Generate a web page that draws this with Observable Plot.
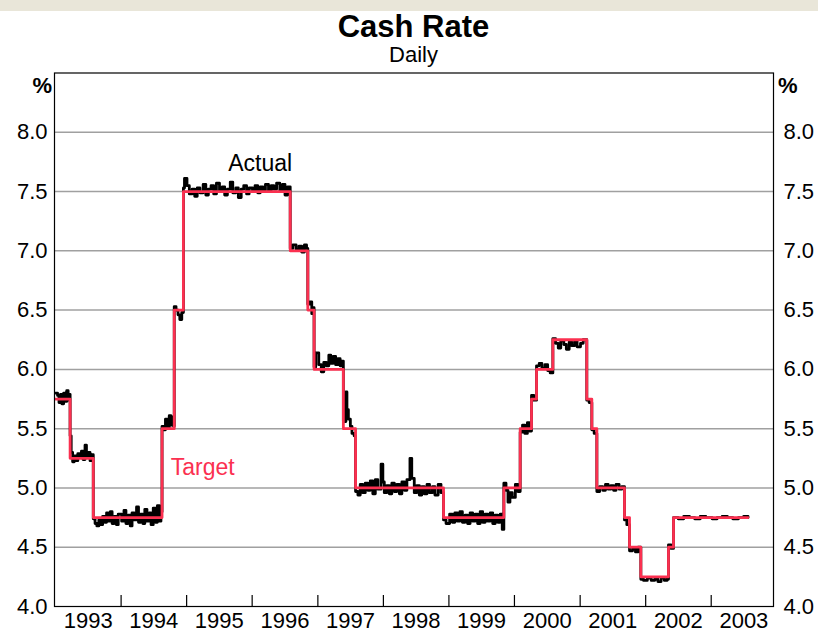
<!DOCTYPE html>
<html>
<head>
<meta charset="utf-8">
<script src="https://cdn.jsdelivr.net/npm/d3@7"></script>
<script src="https://cdn.jsdelivr.net/npm/@observablehq/plot@0.6"></script>
<style>
  body { margin: 0; background: white; font-family: 'Liberation Sans', Arial, sans-serif; }
  #strip { height: 11px; background: #e9e6d9; }
  #title { margin-left: 54px; width: 719px; text-align: center; font: bold 31px/31px 'Liberation Sans', Arial, sans-serif; }
  #subtitle { margin-left: 54px; width: 719px; text-align: center; font: 22px/22px 'Liberation Sans', Arial, sans-serif; padding-top: 2px; }
</style>
</head>
<body>
<div id="strip"></div>
<div id="title">Cash Rate</div>
<div id="subtitle">Daily</div>
<div id="chart"></div>
<script>
// Target cash rate (date of change, rate %)
const targetChanges = [
  ["1993-01-01",5.75],["1993-03-23",5.25],["1993-07-30",4.75],["1994-08-17",5.5],["1994-10-24",6.5],
  ["1994-12-14",7.5],["1996-07-31",7.0],["1996-11-06",6.5],["1996-12-11",6.0],["1997-05-23",5.5],
  ["1997-07-30",5.0],["1998-12-02",4.75],["1999-11-03",5.0],["2000-02-02",5.5],["2000-04-05",5.75],
  ["2000-05-03",6.0],["2000-08-02",6.25],["2001-02-07",5.75],["2001-03-07",5.5],["2001-04-04",5.0],
  ["2001-09-05",4.75],["2001-10-03",4.5],["2001-12-05",4.25],["2002-05-08",4.5],["2002-06-05",4.75],
  ["2003-07-25",4.75]
];

// Actual cash rate
const actualRates = [
  ["1993-01-01",5.80],["1993-01-12",5.78],["1993-01-20",5.72],["1993-01-28",5.79],["1993-02-05",5.71],["1993-02-15",5.80],["1993-02-24",5.73],["1993-03-04",5.82],["1993-03-12",5.74],["1993-03-18",5.79],
  ["1993-03-23",5.44],["1993-03-29",5.30],["1993-04-06",5.22],["1993-04-15",5.27],["1993-04-26",5.23],["1993-05-05",5.29],["1993-05-14",5.26],["1993-05-25",5.31],["1993-06-03",5.24],["1993-06-14",5.36],["1993-06-22",5.27],["1993-07-01",5.30],["1993-07-12",5.23],["1993-07-20",5.28],
  ["1993-07-30",4.74],["1993-08-09",4.70],["1993-08-19",4.68],["1993-08-30",4.73],["1993-09-09",4.69],["1993-09-20",4.76],["1993-10-01",4.71],["1993-10-12",4.79],["1993-10-22",4.72],["1993-11-02",4.80],["1993-11-12",4.70],["1993-11-24",4.76],["1993-12-06",4.69],["1993-12-16",4.78],
  ["1994-01-04",4.72],["1994-01-17",4.81],["1994-01-28",4.70],["1994-02-09",4.77],["1994-02-21",4.68],["1994-03-03",4.79],["1994-03-15",4.73],["1994-03-28",4.84],["1994-04-08",4.71],["1994-04-20",4.78],["1994-05-02",4.70],["1994-05-13",4.82],["1994-05-25",4.72],["1994-06-07",4.79],["1994-06-17",4.69],["1994-06-29",4.83],["1994-07-11",4.71],["1994-07-22",4.85],["1994-08-02",4.72],["1994-08-11",4.80],
  ["1994-08-17",5.52],["1994-08-26",5.49],["1994-09-05",5.58],["1994-09-15",5.51],["1994-09-26",5.61],["1994-10-05",5.53],["1994-10-14",5.60],["1994-10-20",5.52],
  ["1994-10-24",6.53],["1994-11-03",6.50],["1994-11-14",6.46],["1994-11-24",6.42],["1994-12-05",6.48],
  ["1994-12-14",7.53],["1994-12-20",7.61],["1995-01-03",7.55],["1995-01-16",7.48],["1995-02-01",7.52],["1995-02-15",7.46],["1995-03-01",7.53],["1995-03-16",7.49],["1995-04-03",7.56],["1995-04-18",7.47],["1995-05-02",7.52],["1995-05-17",7.55],["1995-06-01",7.48],["1995-06-16",7.57],["1995-07-03",7.50],["1995-07-18",7.54],["1995-08-01",7.47],["1995-08-16",7.52],["1995-09-01",7.58],["1995-09-15",7.49],["1995-10-02",7.53],["1995-10-16",7.45],["1995-11-01",7.52],["1995-11-15",7.55],["1995-12-01",7.48],["1995-12-15",7.53],
  ["1996-01-03",7.50],["1996-01-17",7.55],["1996-02-01",7.49],["1996-02-15",7.54],["1996-03-01",7.51],["1996-03-15",7.56],["1996-04-01",7.50],["1996-04-16",7.55],["1996-05-01",7.52],["1996-05-16",7.57],["1996-06-03",7.51],["1996-06-18",7.56],["1996-07-02",7.47],["1996-07-16",7.54],
  ["1996-07-31",7.02],["1996-08-15",7.05],["1996-09-02",7.01],["1996-09-18",7.04],["1996-10-03",6.99],["1996-10-18",7.05],["1996-10-30",7.02],
  ["1996-11-06",6.55],["1996-11-18",6.57],["1996-11-28",6.47],["1996-12-05",6.52],
  ["1996-12-11",6.02],["1996-12-20",6.14],["1997-01-06",6.04],["1997-01-20",5.98],["1997-02-03",6.06],["1997-02-17",6.03],["1997-03-03",6.12],["1997-03-14",6.05],["1997-03-27",6.11],["1997-04-10",6.04],["1997-04-22",6.09],["1997-05-05",6.03],["1997-05-15",6.07],
  ["1997-05-23",5.56],["1997-06-06",5.81],["1997-06-12",5.66],["1997-06-20",5.58],["1997-07-01",5.52],["1997-07-10",5.46],["1997-07-22",5.44],
  ["1997-07-30",4.97],["1997-08-12",4.94],["1997-08-25",5.03],["1997-09-08",4.96],["1997-09-22",5.04],["1997-10-06",4.98],["1997-10-20",5.06],["1997-11-03",4.95],["1997-11-17",5.07],["1997-12-01",4.99],["1997-12-19",5.20],["1997-12-29",5.05],
  ["1998-01-06",4.96],["1998-01-20",5.02],["1998-02-03",4.95],["1998-02-17",5.04],["1998-03-03",4.97],["1998-03-17",5.03],["1998-03-31",4.95],["1998-04-14",5.05],["1998-04-28",4.98],["1998-05-12",5.07],["1998-05-29",5.25],["1998-06-08",5.08],["1998-06-22",4.96],["1998-07-06",5.02],["1998-07-20",4.94],["1998-08-03",5.01],["1998-08-17",4.95],["1998-09-01",5.03],["1998-09-15",4.96],["1998-10-01",5.01],["1998-10-15",4.94],["1998-11-02",5.03],["1998-11-18",4.96],
  ["1998-12-02",4.73],["1998-12-16",4.70],["1999-01-05",4.78],["1999-01-20",4.71],["1999-02-03",4.79],["1999-02-17",4.72],["1999-03-03",4.80],["1999-03-17",4.71],["1999-04-01",4.77],["1999-04-15",4.70],["1999-04-29",4.79],["1999-05-13",4.72],["1999-05-27",4.78],["1999-06-10",4.70],["1999-06-24",4.80],["1999-07-08",4.71],["1999-07-22",4.78],["1999-08-05",4.72],["1999-08-19",4.79],["1999-09-02",4.70],["1999-09-16",4.77],["1999-09-30",4.71],["1999-10-14",4.78],["1999-10-25",4.65],
  ["1999-11-03",5.04],["1999-11-15",4.98],["1999-11-26",4.88],["1999-12-07",4.96],["1999-12-20",4.92],["2000-01-06",5.03],["2000-01-20",4.97],
  ["2000-02-02",5.47],["2000-02-15",5.53],["2000-02-28",5.46],["2000-03-13",5.55],["2000-03-24",5.48],
  ["2000-04-05",5.78],["2000-04-18",5.74],
  ["2000-05-03",6.03],["2000-05-18",6.05],["2000-06-02",6.01],["2000-06-19",6.04],["2000-07-04",5.99],["2000-07-18",5.97],
  ["2000-08-02",6.26],["2000-08-17",6.22],["2000-09-01",6.18],["2000-09-15",6.24],["2000-10-02",6.21],["2000-10-16",6.17],["2000-11-01",6.23],["2000-11-15",6.20],["2000-12-01",6.24],["2000-12-15",6.19],["2001-01-03",6.22],["2001-01-18",6.25],
  ["2001-02-07",5.74],["2001-02-20",5.72],
  ["2001-03-07",5.49],["2001-03-20",5.46],
  ["2001-04-04",4.97],["2001-04-20",5.01],["2001-05-07",4.98],["2001-05-22",5.03],["2001-06-06",4.99],["2001-06-21",5.02],["2001-07-06",4.98],["2001-07-20",5.03],["2001-08-06",4.99],["2001-08-21",5.01],
  ["2001-09-05",4.73],["2001-09-18",4.69],
  ["2001-10-03",4.47],["2001-10-20",4.49],["2001-11-05",4.46],["2001-11-20",4.50],
  ["2001-12-05",4.23],["2001-12-20",4.22],["2002-01-10",4.24],["2002-02-01",4.22],["2002-02-20",4.23],["2002-03-10",4.21],["2002-03-28",4.24],["2002-04-15",4.22],["2002-04-30",4.23],
  ["2002-05-08",4.52],["2002-05-22",4.49],
  ["2002-06-05",4.75],["2002-07-01",4.74],["2002-08-01",4.76],["2002-09-02",4.75],["2002-10-01",4.74],["2002-11-01",4.76],["2002-12-02",4.75],["2003-01-06",4.74],["2003-02-03",4.75],["2003-03-03",4.76],["2003-04-01",4.75],["2003-05-01",4.74],["2003-06-02",4.75],["2003-07-01",4.76],["2003-07-25",4.75]
];

const yTicks = [4.0, 4.5, 5.0, 5.5, 6.0, 6.5, 7.0, 7.5, 8.0];
const gridValues = [4.5, 5.0, 5.5, 6.0, 6.5, 7.0, 7.5, 8.0];
const yearStarts = ["1994-01-01","1995-01-01","1996-01-01","1997-01-01","1998-01-01","1999-01-01","2000-01-01","2001-01-01","2002-01-01","2003-01-01"];
const yearLabelDates = ["1993-07-02","1994-07-02","1995-07-02","1996-07-02","1997-07-02","1998-07-02","1999-07-02","2000-07-02","2001-07-02","2002-07-02","2003-07-02"];
const seriesLabels = [
  {text: "Actual", date: "1996-02-15", value: 7.735, color: "black"},
  {text: "Target", date: "1995-04-01", value: 5.175, color: "#fb3050"}
];

const RED = "#fb3050";
const parse = s => new Date(s + "T00:00:00Z");
const target = targetChanges.map(([d, v]) => ({date: parse(d), value: v}));
const actual = actualRates.map(([d, v]) => ({date: parse(d), value: v}));
const labels = seriesLabels.map(d => ({...d, date: parse(d.date)}));

const H = 568, MT = 6.5, MB = 28;
const innerH = H - MT - MB;

const chart = Plot.plot({
  width: 818,
  height: H,
  marginTop: MT,
  marginBottom: MB,
  marginLeft: 54,
  marginRight: 45,
  style: {fontFamily: "'Liberation Sans', Arial, sans-serif", fontSize: "22px", color: "black", background: "white", overflow: "visible"},
  x: {type: "utc", domain: [parse("1992-12-26"), parse("2003-12-14")]},
  y: {domain: [4, 8.5]},
  marks: [
    Plot.ruleY(gridValues, {stroke: "#a0a0a0", strokeWidth: 1.5}),
    Plot.line(actual, {x: "date", y: "value", curve: "step-after", stroke: "black", strokeWidth: 2.8}),
    Plot.line(target, {x: "date", y: "value", curve: "step-after", stroke: RED, strokeWidth: 2.8}),
    Plot.frame({stroke: "black", strokeWidth: 1.2}),
    Plot.ruleX(yearStarts.map(parse), {insetTop: innerH - 11, stroke: "black", strokeWidth: 1.2}),
    Plot.axisY({anchor: "left", ticks: yTicks, tickSize: 0, tickPadding: 7, tickFormat: d3.format(".1f"), label: null}),
    Plot.axisY({anchor: "right", ticks: yTicks, tickSize: 0, tickPadding: 10, tickFormat: d3.format(".1f"), label: null}),
    Plot.axisX({ticks: yearLabelDates.map(parse), tickSize: 0, tickPadding: 6, tickFormat: d3.utcFormat("%Y"), label: null}),
    Plot.text(["%"], {text: d => d, frameAnchor: "top-left", dx: -22, dy: 4, fontWeight: "bold", fontSize: 22}),
    Plot.text(["%"], {text: d => d, frameAnchor: "top-right", dx: 24, dy: 4, fontWeight: "bold", fontSize: 22}),
    Plot.text(labels, {x: "date", y: "value", text: "text", fill: "color", fontSize: 23})
  ]
});
document.getElementById("chart").appendChild(chart);
</script>
</body>
</html>
